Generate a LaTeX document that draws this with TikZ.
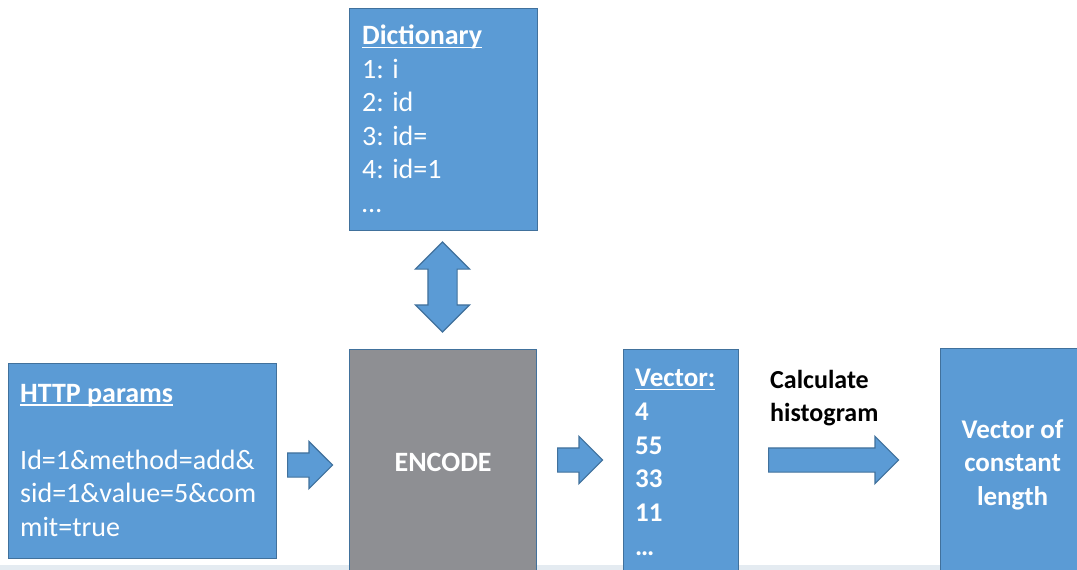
\documentclass[tikz,border=0pt]{standalone}
\usepackage{fontspec}
\setmainfont{Carlito}
\usetikzlibrary{positioning,calc,shapes.arrows}
\definecolor{BoxBlue}{HTML}{5B9BD5}
\definecolor{EdgeBlue}{HTML}{41719C}
\definecolor{EncGray}{HTML}{8E8F93}
\definecolor{StripBlue}{HTML}{E4EBF1}
\newcommand{\undl}[1]{\setbox0\hbox{#1}\rlap{\rule[-3.5pt]{\wd0}{1.4pt}}\box0}

\begin{document}
\begin{tikzpicture}[
  x=1pt, y=-1pt,
  box/.style={draw=EdgeBlue, line width=1.2pt, fill=BoxBlue, anchor=north west, inner sep=0pt},
  lbl/.style={text=white, font=\fontsize{28}{33.5}\selectfont, align=left, inner sep=0pt, anchor=north west},
  blockarr/.style={single arrow, draw=EdgeBlue, line width=1.2pt, fill=BoxBlue, inner xsep=0pt, inner ysep=11.5pt,
    single arrow head extend=11.5pt, single arrow tip angle=90, minimum width=46pt, anchor=tail}
]
\useasboundingbox (0,0) rectangle (1077,570);
\clip (0,0) rectangle (1077,570);
\fill[StripBlue] (0,565) rectangle (1077,570);

% boxes
\node[box, minimum width=188pt, minimum height=222pt] (dict) at (349,8) {};
\node[box, minimum width=268pt, minimum height=195pt] (http) at (8,363) {};
\node[box, fill=EncGray, minimum width=187pt, minimum height=226pt, text=white,
  font=\fontsize{28}{33.5}\selectfont\bfseries] (enc) at (349,349) {ENCODE};
\node[box, minimum width=115pt, minimum height=240pt] (vec) at (623,349) {};
\node[box, minimum width=144pt, minimum height=232pt, text=white, align=center,
  font=\fontsize{27}{33.5}\selectfont\bfseries] (res) at (940,348) {Vector of\\constant\\length};

% texts
\node[lbl] (dicttxt) at (362,25) {\textbf{\undl{Dictionary}}\\1: i\\2: id\\3: id=\\4: id=1\\…};
\node[lbl] (httptxt) at (20,384) {\textbf{\undl{HTTP params}}\\[33.5pt]Id=1\&method=add\&\\sid=1\&value=5\&com\\mit=true};
\node[lbl, font=\fontsize{27}{33.7}\selectfont\bfseries] (vectxt) at (635,369) {\undl{Vector:}\\4\\55\\33\\11\\…};
\node[lbl, text=black, font=\fontsize{26}{33}\selectfont\bfseries] (histtxt) at (770,370) {Calculate\\histogram};

% arrows
\node[blockarr, minimum height=45pt] (a1) at (287,465) {};
\node[blockarr, minimum height=45pt] (a2) at (557,460) {};
\node[blockarr, minimum height=130pt] (a3) at (768,460) {};
\node[double arrow, draw=EdgeBlue, line width=1.2pt, fill=BoxBlue, inner xsep=0pt, inner ysep=14pt, rotate=90,
  double arrow head extend=12.5pt, double arrow tip angle=90,
  minimum width=53pt, minimum height=90pt] (dblarr) at (442.5,287) {};
\end{tikzpicture}
\end{document}
